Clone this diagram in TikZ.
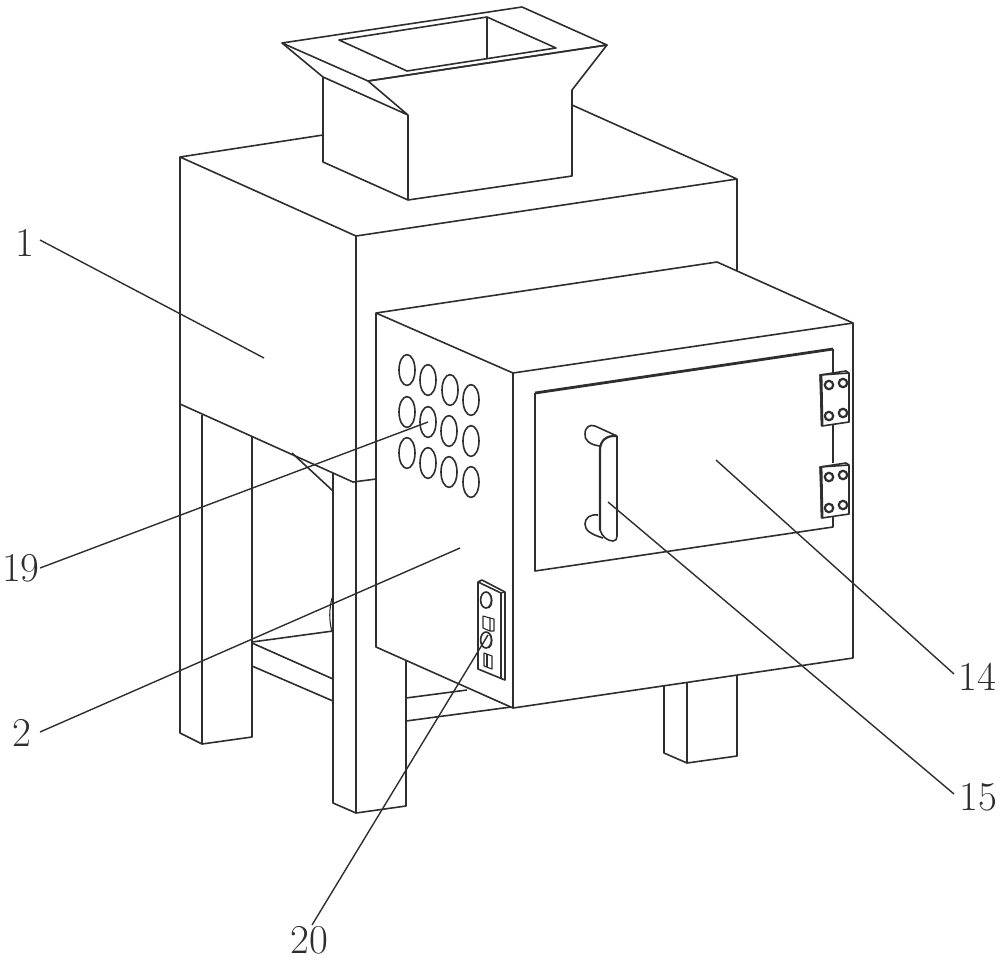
\documentclass[tikz,border=0pt]{standalone}
\definecolor{ink}{HTML}{2E2E2E}
\tikzset{
  part/.style={draw=ink,line width=0.8pt,line join=round},
  fine/.style={draw=ink,line width=0.55pt,line join=round},
  heavy/.style={draw=ink,line width=1.4pt,line join=round},
  leader/.style={draw=ink,line width=0.7pt},
  numlabel/.style={font=\fontsize{20.5}{20.5}\selectfont,text=ink,inner sep=0pt}
}
\begin{document}
\begin{tikzpicture}[x=0.5pt,y=-0.5pt]
\useasboundingbox (0,0) rectangle (1000,959);
% main body
\draw[part] (323,135) -- (180,157) -- (356,236) -- (737,179) -- (572,105);
\draw[part] (180,157) -- (180,733) -- (202,744) -- (252,737) -- (252,437);
\draw[part] (202,415) -- (202,744);
\draw[part] (180,404) -- (353,482) -- (376,479);
\draw[part] (356,236) -- (356,813);
\draw[part] (737,179) -- (737,272);
% legs
\draw[part] (333,473) -- (333,803) -- (356,813) -- (406,806) -- (406,661);
\draw[part] (292,453) -- (333,491);
\draw[part] (252,642) -- (333,631);
\draw[part] (252,643) -- (333,679);
\draw[part] (252,666) -- (333,701);
\draw[fine] (332,598) .. controls (329,610) and (329,620) .. (332,632);
\draw[part] (406,698) -- (467,690);
\draw[part] (406,721) -- (511,707);
\draw[part] (664,685) -- (664,753) -- (687,763) -- (737,756) -- (737,675);
\draw[part] (687,681) -- (687,763);
% hopper
\draw[part,fill=white] (323,77) -- (323,162) -- (408,200) -- (572,176) -- (572,90) -- (607,45) -- (368,81) -- (408,115) -- (323,77);
\draw[part] (282,43) -- (522,7) -- (607,45) -- (368,81) -- cycle;
\draw[part] (282,43) -- (323,77);
\draw[part] (408,115) -- (408,200);
\draw[part] (339,40) -- (487,17) -- (556,48) -- (407,71) -- cycle;
\draw[part] (487,17) -- (487,58);
% front box
\draw[part,fill=white] (376,313) -- (717,262) -- (853,323) -- (853,658) -- (513,708) -- (376,647) -- cycle;
\draw[part] (376,313) -- (513,373) -- (853,323);
\draw[part] (513,373) -- (513,708);
% holes
\foreach \hx/\hy in {407/370,428/380,450/390,471/400,407/412,428/422,449/431,471/441,407/453,428/463,449/472,471/482}
  \draw[part] (\hx,\hy) ellipse [x radius=4pt,y radius=7.7pt];
% door
\draw[part] (535,393) -- (535,571) -- (833,527) -- (833,515);
\draw[part] (833,375) -- (833,349);
\draw[part] (833,425) -- (833,463);
\draw[heavy] (535,393) -- (833,349);
\draw[heavy] (535,393) -- (535,571);
% hinges
\foreach \hy in {0,92}{
  \begin{scope}[yshift=-\hy*0.5pt]
  \draw[part,fill=white] (820,375) -- (833,373) -- (846,371) -- (849,373) -- (849,422) -- (822,426) -- cycle;
  \draw[heavy] (821,375) -- (822,426);
  \draw[part] (820,375) -- (849,373);
  \foreach \cx/\cy in {829/385,843/383,829/416,843/413}
    \draw[draw=ink,line width=1.1pt,fill=white] (\cx,\cy) circle [radius=2.1pt];
  \end{scope}
}
% handle
\draw[part] (600,446) .. controls (590,445) and (584,440) .. (585,434) .. controls (585,427) and (590,424) .. (595,426) -- (617,436);
\draw[heavy,line width=1.1pt] (600,530) -- (600,450) .. controls (600,441) and (606,435) .. (617,436);
\draw[heavy,line width=1.1pt] (617,436) -- (617,536);
\draw[part] (600,530) .. controls (602,537) and (608,541) .. (613,541) .. controls (616,541) and (617,539) .. (617,536);
\draw[part] (598,515) .. controls (590,514) and (585,518) .. (585,524) .. controls (585,530) and (590,534) .. (603,538);
% control panel
\draw[part] (478,582) -- (482,580) -- (505,592) -- (505,680) -- (478,669) -- cycle;
\draw[part] (478,582) -- (501,593) -- (501,679);
\draw[fine] (501,593) -- (505,592);
\draw[part] (486,600) ellipse [x radius=2.7pt,y radius=4pt];
\draw[fine] (489,593) .. controls (493,596) and (493,605) .. (489,608);
\draw[fine] (483,616) -- (490,618) -- (490,631) -- (483,628) -- cycle;
\draw[fine] (490,618) -- (494,619) -- (494,631) -- (490,631);
\draw[part] (486,640) ellipse [x radius=2.7pt,y radius=4pt];
\draw[fine] (489,633) .. controls (493,636) and (493,645) .. (489,648);
\draw[fine] (484,653) -- (492,656) -- (492,669) -- (484,666) -- cycle;
\draw[fine] (487,654) -- (487,667);
% labels and leaders
\node[numlabel] (n1) at (25,243) {1};
\node[numlabel] (n19) at (21,568) {19};
\node[numlabel] (n2) at (22,733) {2};
\node[numlabel] (n20) at (309,940) {20};
\node[numlabel] (n14) at (977,677) {14};
\node[numlabel] (n15) at (978,797) {15};
\coordinate (t1) at (264,358);
\coordinate (t19) at (428,422);
\coordinate (t2) at (460,548);
\coordinate (t20) at (488,635);
\coordinate (t14) at (716,460);
\coordinate (t15) at (608,502);
\coordinate (s1) at (40,240);
\coordinate (s19) at (40,568);
\coordinate (s2) at (40,732);
\coordinate (s20) at (312,925);
\coordinate (s14) at (954,674);
\coordinate (s15) at (954,794);
\draw[leader] (s1) -- (t1);
\draw[leader] (s19) -- (t19);
\draw[leader] (s2) -- (t2);
\draw[leader] (s20) -- (t20);
\draw[leader] (s14) -- (t14);
\draw[leader] (s15) -- (t15);
\end{tikzpicture}
\end{document}
